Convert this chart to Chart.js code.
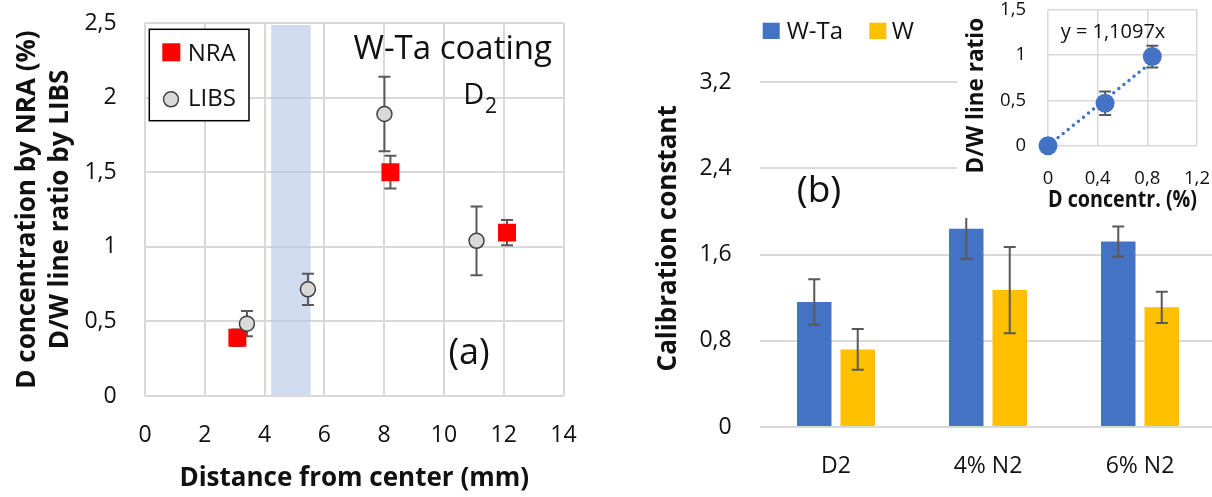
<!DOCTYPE html>
<html>
<head>
<meta charset="utf-8">
<script src="https://cdn.jsdelivr.net/npm/chart.js@4.4.0/dist/chart.umd.min.js"></script>
<style>
  html, body { margin: 0; padding: 0; background: #fff; overflow: hidden; }
  body { width: 1212px; height: 497px; position: relative; }
  canvas { position: absolute; top: 0; }
  #chartA { left: 0; }
  #chartB { left: 640px; }
  #inset { left: 957px; background: #fff; }
</style>
</head>
<body>
<canvas id="chartA" width="600" height="497"></canvas>
<canvas id="chartB" width="576" height="497"></canvas>
<canvas id="inset" width="255" height="218"></canvas>
<script>
// (a) D content vs distance
const nraX = [3.09, 8.21, 12.11];
const nraY = [0.39, 1.50, 1.095];
const nraErr = [0.055, 0.11, 0.085];
const libsX = [3.41, 5.45, 8.01, 11.09];
const libsY = [0.485, 0.715, 1.89, 1.04];
const libsErr = [0.085, 0.105, 0.25, 0.23];
const bandRange = [4.22, 5.54];

// (b) calibration constants
const gases = ["D2", "4% N2", "6% N2"];
const wtaCal = [1.16, 1.84, 1.72];
const wtaErr = [0.21, 0.28, 0.14];
const wCal = [0.72, 1.27, 1.11];
const wErr = [0.19, 0.40, 0.145];

// inset: line ratio vs D concentration
const insetX = [0, 0.46, 0.84];
const insetY = [0, 0.47, 0.985];
const insetErr = [0, 0.13, 0.12];
const trendX = [0, 0.84];
const trendY = [0, 0.93];

const FONT = "'Open Sans', 'Liberation Sans', sans-serif";
const INK = "#111";
const GRID = "#d9d9d9";
Chart.defaults.font.family = FONT;
Chart.defaults.color = INK;

const comma = v => String(Math.round(v * 10) / 10).replace(".", ",");
const pts = (xs, ys) => xs.map((x, i) => ({ x, y: ys[i] }));

function text(ctx, str, x, y, size, opts = {}) {
  ctx.font = (opts.bold ? "bold " : "") + size + "px " + FONT;
  ctx.fillStyle = opts.color || INK;
  ctx.textAlign = opts.align || "left";
  ctx.textBaseline = opts.baseline || "alphabetic";
  ctx.fillText(str, x, y);
}

// grid with an invisible tick mark, so the tick length works as label gap
const gridWithGap = (gap, lineWidth) => ({
  color: GRID, lineWidth, drawTicks: true, tickLength: gap, tickColor: "rgba(0,0,0,0)"
});

function drawErrors(chart) {
  const ctx = chart.ctx;
  const y = chart.scales.y;
  const cap = 6;
  ctx.save();
  ctx.strokeStyle = "#595959";
  ctx.lineWidth = 2;
  chart.data.datasets.forEach((ds, i) => {
    if (!ds.errors) return;
    chart.getDatasetMeta(i).data.forEach((el, j) => {
      const e = ds.errors[j];
      if (!e) return;
      const v = typeof ds.data[j] === "object" ? ds.data[j].y : ds.data[j];
      const top = y.getPixelForValue(v + e);
      const bot = y.getPixelForValue(v - e);
      ctx.beginPath();
      ctx.moveTo(el.x, top); ctx.lineTo(el.x, bot);
      ctx.moveTo(el.x - cap, top); ctx.lineTo(el.x + cap, top);
      ctx.moveTo(el.x - cap, bot); ctx.lineTo(el.x + cap, bot);
      ctx.stroke();
    });
  });
  ctx.restore();
}

const errorBars = {
  id: "errorBars",
  beforeDatasetsDraw(chart, args, opts) { if (opts.under) drawErrors(chart); },
  afterDatasetsDraw(chart, args, opts) { if (!opts.under) drawErrors(chart); }
};

const band = {
  id: "band",
  beforeDatasetsDraw(chart) {
    const { ctx, chartArea, scales } = chart;
    const x0 = scales.x.getPixelForValue(bandRange[0]);
    const x1 = scales.x.getPixelForValue(bandRange[1]);
    ctx.save();
    ctx.fillStyle = "rgba(180, 199, 231, 0.62)";
    ctx.fillRect(x0, chartArea.top + 2, x1 - x0, chartArea.bottom - chartArea.top - 3);
    ctx.restore();
  }
};

const notesA = {
  id: "notesA",
  afterDraw(chart) {
    const ctx = chart.ctx;
    ctx.save();
    ctx.fillStyle = "#fff";
    ctx.fillRect(149.3, 29.3, 99.7, 91.4);
    ctx.strokeStyle = "#000";
    ctx.lineWidth = 1.5;
    ctx.strokeRect(149.3, 29.3, 99.7, 91.4);
    ctx.fillStyle = "#ff0000";
    ctx.fillRect(162.3, 43.3, 18, 18);
    ctx.beginPath();
    ctx.arc(171, 99.3, 7.5, 0, Math.PI * 2);
    ctx.fillStyle = "#d9d9d9";
    ctx.fill();
    ctx.strokeStyle = "#404040";
    ctx.stroke();
    text(ctx, "NRA", 187.7, 61, 24);
    text(ctx, "LIBS", 188, 106, 24);
    text(ctx, "W-Ta coating", 452.7, 59.3, 33, { align: "center" });
    text(ctx, "D", 463.3, 104, 29);
    text(ctx, "2", 485, 113.3, 21);
    text(ctx, "(a)", 469, 354, 36, { align: "center", baseline: "middle" });
    ctx.restore();
  }
};

const notesB = {
  id: "notesB",
  afterDraw(chart) {
    const ctx = chart.ctx;
    ctx.save();
    ctx.fillStyle = "#4472C4";
    ctx.fillRect(762.7 - 640, 22.7, 17, 16.3);
    ctx.fillStyle = "#FFC000";
    ctx.fillRect(869.3 - 640, 22.7, 17, 16.3);
    text(ctx, "W-Ta", 786.7 - 640, 39, 24);
    text(ctx, "W", 891.7 - 640, 39, 24);
    text(ctx, "(b)", 819 - 640, 191.7, 37, { align: "center", baseline: "middle" });
    ctx.restore();
  }
};

const notesInset = {
  id: "notesInset",
  afterDraw(chart) {
    const ctx = chart.ctx;
    ctx.save();
    text(ctx, "y = 1,1097x", 1113 - 957, 38.3, 20, { align: "center" });
    ctx.translate(19.7, 95.7);
    ctx.rotate(-Math.PI / 2);
    text(ctx, "D/W line ratio", 0, 0, 22.5, { bold: true, align: "center", baseline: "middle" });
    ctx.restore();
  }
};

const base = {
  responsive: false,
  animation: false,
  devicePixelRatio: 1,
  events: []
};

new Chart(document.getElementById("chartA"), {
  type: "scatter",
  data: {
    datasets: [
      { label: "NRA", data: pts(nraX, nraY), errors: nraErr, order: 1,
        pointStyle: "rect", pointRadius: 12.7, pointBackgroundColor: "#ff0000", pointBorderWidth: 0 },
      { label: "LIBS", data: pts(libsX, libsY), errors: libsErr, order: 0,
        pointStyle: "circle", pointRadius: 7.5, pointBackgroundColor: "#d9d9d9",
        pointBorderColor: "#404040", pointBorderWidth: 1.5 }
    ]
  },
  options: {
    ...base,
    layout: { padding: { left: 0, right: 36.5, top: 23, bottom: 0 } },
    plugins: { legend: { display: false }, tooltip: { enabled: false }, errorBars: { under: true } },
    scales: {
      x: {
        type: "linear", min: 0, max: 14,
        ticks: { stepSize: 2, padding: 0, font: { size: 23 } },
        grid: gridWithGap(25.2, 2),
        border: { display: false },
        title: { display: true, text: "Distance from center (mm)", font: { size: 26, weight: "bold" }, padding: { top: 0, bottom: 2.4 } },
        afterFit: s => { s.height = 101; }
      },
      y: {
        min: 0, max: 2.5,
        ticks: { stepSize: 0.5, padding: 0, font: { size: 23 }, callback: comma },
        grid: gridWithGap(28.3, 2),
        border: { display: false },
        title: { display: true, text: ["D concentration by NRA (%)", "D/W line ratio by LIBS"],
          font: { size: 26, weight: "bold", lineHeight: 1.27 }, padding: { top: 11.5, bottom: 0 } },
        afterFit: s => { s.width = 145; }
      }
    }
  },
  plugins: [band, errorBars, notesA]
});

new Chart(document.getElementById("chartB"), {
  type: "bar",
  data: {
    labels: gases,
    datasets: [
      { label: "W-Ta", data: wtaCal, errors: wtaErr, backgroundColor: "#4472C4",
        barPercentage: 0.793, categoryPercentage: 0.572 },
      { label: "W", data: wCal, errors: wErr, backgroundColor: "#FFC000",
        barPercentage: 0.793, categoryPercentage: 0.572 }
    ]
  },
  options: {
    ...base,
    layout: { padding: { left: 0, right: 0, top: 49.7, bottom: 0 } },
    plugins: { legend: { display: false }, tooltip: { enabled: false }, errorBars: { under: false } },
    scales: {
      x: {
        ticks: { padding: 25.9, font: { size: 23 } },
        grid: { display: false, drawTicks: false },
        border: { display: false },
        afterFit: s => { s.height = 70; }
      },
      y: {
        min: 0, max: 3.5,
        ticks: { stepSize: 0.8, padding: 0, font: { size: 23 }, callback: comma },
        afterBuildTicks: s => { s.ticks = s.ticks.filter(t => t.value <= 3.21); },
        grid: gridWithGap(28.3, 2),
        border: { display: false },
        title: { display: true, text: "Calibration constant", font: { size: 26, weight: "bold" }, padding: { top: 13.4, bottom: 0 } },
        afterFit: s => { s.width = 120; }
      }
    }
  },
  plugins: [errorBars, notesB]
});

new Chart(document.getElementById("inset"), {
  type: "scatter",
  data: {
    datasets: [
      { label: "LIBS vs NRA", data: pts(insetX, insetY), errors: insetErr, order: 0, clip: false,
        pointRadius: 9.5, pointBackgroundColor: "#4472C4", pointBorderWidth: 0 },
      { type: "line", label: "trend", data: pts(trendX, trendY), order: 1, clip: false,
        showLine: true, fill: false, borderColor: "#4472C4", borderWidth: 3.5,
        borderDash: [0, 6.5], borderCapStyle: "round", pointRadius: 0 }
    ]
  },
  options: {
    ...base,
    layout: { padding: { left: 0, right: 15, top: 10, bottom: 0 } },
    plugins: { legend: { display: false }, tooltip: { enabled: false }, errorBars: { under: true } },
    scales: {
      x: {
        type: "linear", min: 0, max: 1.2,
        ticks: { stepSize: 0.4, padding: 0, font: { size: 18.5 }, callback: comma },
        grid: gridWithGap(21.5, 1.5),
        border: { display: false },
        title: { display: true, text: "D concentr. (%)", font: { size: 24, weight: "bold" }, padding: { top: 0, bottom: 3.2 } },
        afterFit: s => { s.height = 72.3; }
      },
      y: {
        min: 0, max: 1.5,
        ticks: { stepSize: 0.5, padding: 0, font: { size: 18.5, lineHeight: 1 }, callback: comma },
        grid: gridWithGap(22, 1.5),
        border: { display: false },
        afterFit: s => { s.width = 91; }
      }
    }
  },
  plugins: [errorBars, notesInset]
});
</script>
</body>
</html>
